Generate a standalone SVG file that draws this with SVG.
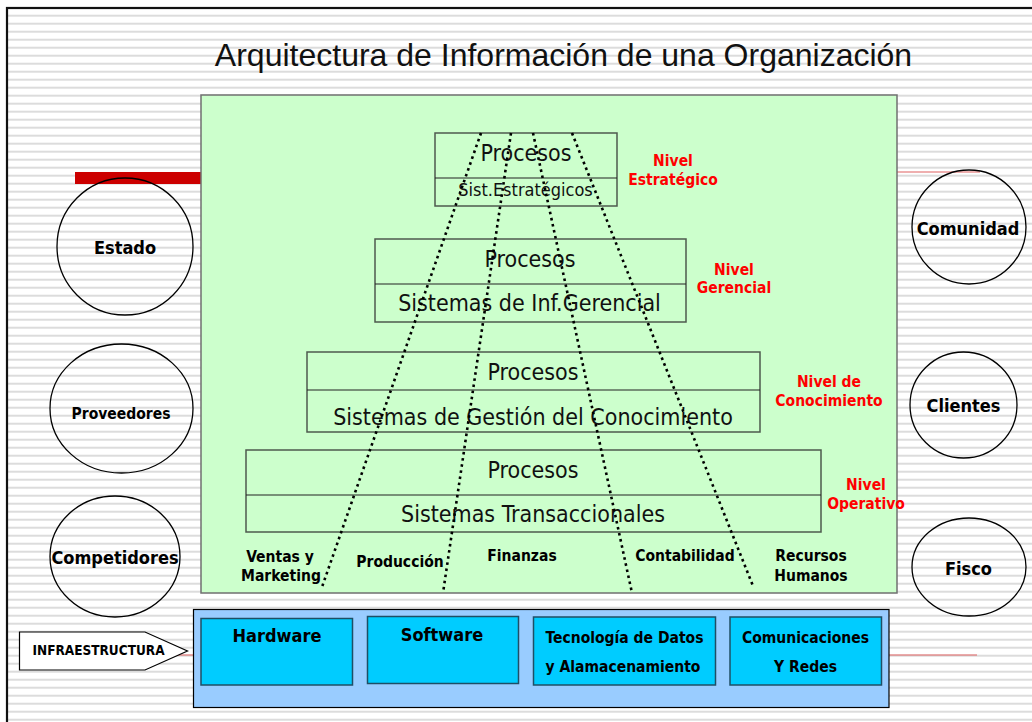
<svg xmlns="http://www.w3.org/2000/svg" width="1032" height="722" viewBox="0 0 1032 722">
<defs>
<pattern id="stripes" patternUnits="userSpaceOnUse" x="0" y="14.7" width="8" height="8">
<rect x="0" y="0" width="8" height="2" fill="#dcdcdc"/>
</pattern>
</defs>
<style>
.cond{font-family:"DejaVu Sans Condensed","DejaVu Sans",sans-serif;font-stretch:condensed}
.reg{font-weight:normal;font-size:23px;fill:#111}
.b{font-weight:bold;fill:#000}
.red{font-weight:bold;fill:#ff0000;font-size:15.5px}
.lvl{fill:none;stroke:#4d5a4d;stroke-width:1.5}
.div{stroke:#222;stroke-width:1.2}
.ell{fill:#fff;fill-opacity:0;stroke:#000;stroke-width:1.3}
.dot{fill:none;stroke:#000;stroke-width:2.6;stroke-dasharray:2.6 3.6}
.inner{fill:#00ccff;stroke:#1f4f66;stroke-width:1.5}
text{text-anchor:middle}
</style>
<rect x="0" y="0" width="1032" height="722" fill="#fff"/>
<rect x="8" y="9" width="1030" height="720" fill="url(#stripes)"/>
<rect x="7" y="8" width="1040" height="730" fill="none" stroke="#111" stroke-width="2.2"/>

<text id="title" x="563.5" y="66" style="font-family:'Liberation Sans',Arial,sans-serif;font-size:32px;fill:#111">Arquitectura de Información de una Organización</text>

<!-- red guide lines -->
<rect x="75" y="172" width="126" height="12" fill="#cc0000"/>
<line x1="897" y1="172" x2="980" y2="172" stroke="#e06060" stroke-width="1.2"/>
<line x1="75" y1="655" x2="193" y2="655" stroke="#e06060" stroke-width="1.2"/>
<line x1="889" y1="655" x2="977" y2="655" stroke="#e06060" stroke-width="1.2"/>

<g id="main-area">
<rect x="201" y="95" width="696" height="498" fill="#ccffcc" stroke="#707070" stroke-width="1.5"/>
</g>

<g id="nivel-estrategico">
<rect class="lvl" x="435" y="133" width="182" height="73"/>
<line class="div" x1="435" y1="178" x2="617" y2="178"/>
<text class="cond reg" x="526" y="161">Procesos</text>
<text class="cond reg" x="525.5" y="196" style="font-size:18px">Sist.Estratégicos</text>
<text class="cond red" x="673" y="166">Nivel</text>
<text class="cond red" x="673" y="185">Estratégico</text>
</g>

<g id="nivel-gerencial">
<rect class="lvl" x="375" y="239" width="311" height="83"/>
<line class="div" x1="375" y1="284" x2="686" y2="284"/>
<text class="cond reg" x="530" y="267">Procesos</text>
<text class="cond reg" x="529.5" y="311">Sistemas de Inf.Gerencial</text>
<text class="cond red" x="734" y="275">Nivel</text>
<text class="cond red" x="734" y="293">Gerencial</text>
</g>

<g id="nivel-conocimiento">
<rect class="lvl" x="307" y="352" width="453" height="80"/>
<line class="div" x1="307" y1="390" x2="760" y2="390"/>
<text class="cond reg" x="533" y="380">Procesos</text>
<text class="cond reg" x="533" y="425">Sistemas de Gestión del Conocimiento</text>
<text class="cond red" x="829" y="387">Nivel de</text>
<text class="cond red" x="829" y="406">Conocimiento</text>
</g>

<g id="nivel-operativo">
<rect class="lvl" x="246" y="450" width="575" height="82"/>
<line class="div" x1="246" y1="495" x2="821" y2="495"/>
<text class="cond reg" x="533" y="478">Procesos</text>
<text class="cond reg" x="533" y="522">Sistemas Transaccionales</text>
<text class="cond red" x="866" y="490">Nivel</text>
<text class="cond red" x="866" y="509">Operativo</text>
</g>

<g id="connectors">
<line class="dot" x1="481" y1="133" x2="322" y2="587"/>
<line class="dot" x1="511" y1="133" x2="443" y2="593"/>
<line class="dot" x1="533" y1="133" x2="632" y2="593"/>
<line class="dot" x1="572" y1="133" x2="753" y2="586"/>
</g>

<g id="areas" class="cond b" style="font-size:15.5px">
<text class="cond b" x="280" y="562">Ventas y</text>
<text class="cond b" x="281" y="581">Marketing</text>
<text class="cond b" x="400" y="567">Producción</text>
<text class="cond b" x="522" y="561">Finanzas</text>
<text class="cond b" x="685" y="561">Contabilidad</text>
<text class="cond b" x="811" y="561">Recursos</text>
<text class="cond b" x="811" y="581">Humanos</text>
</g>

<g id="estado"><ellipse class="ell" cx="125" cy="246.5" rx="68" ry="68.5"/><text class="cond b" x="125" y="254" style="font-size:18px">Estado</text></g>
<g id="proveedores"><ellipse class="ell" cx="121.5" cy="408.5" rx="71.5" ry="64.5"/><text class="cond b" x="121" y="419" style="font-size:15.5px">Proveedores</text></g>
<g id="competidores"><ellipse class="ell" cx="115" cy="556.5" rx="65" ry="60.5"/><text class="cond b" x="115" y="564" style="font-size:18px">Competidores</text></g>
<g id="comunidad"><ellipse class="ell" cx="969" cy="227" rx="57" ry="57"/><text class="cond b" x="968" y="235" style="font-size:18px">Comunidad</text></g>
<g id="clientes"><ellipse class="ell" cx="963.5" cy="405" rx="53.5" ry="53"/><text class="cond b" x="963.5" y="412" style="font-size:18px">Clientes</text></g>
<g id="fisco"><ellipse class="ell" cx="969" cy="567" rx="57" ry="49"/><text class="cond b" x="968.5" y="575" style="font-size:18px">Fisco</text></g>

<g id="infraestructura-label">
<polygon points="19.5,632 145,632 187.5,651 145,670 19.5,670" fill="#fff" stroke="#000" stroke-width="1.2"/>
<text class="cond b" x="98.5" y="654.5" style="font-size:13.5px">INFRAESTRUCTURA</text>
</g>

<g id="infraestructura">
<rect x="193.5" y="609.5" width="695.5" height="98" fill="#99ccff" stroke="#000" stroke-width="1.2"/>
</g>
<g id="hardware"><rect class="inner" x="201" y="618.5" width="151.5" height="66.5"/><text class="cond b" x="277" y="642" style="font-size:18px">Hardware</text></g>
<g id="software"><rect class="inner" x="367.5" y="616.5" width="151" height="67"/><text class="cond b" x="442" y="641" style="font-size:18px">Software</text></g>
<g id="tecnologia"><rect class="inner" x="533.5" y="617" width="182" height="68"/><text class="cond b" x="624.5" y="643" style="font-size:15.5px">Tecnología de Datos</text><text class="cond b" x="623" y="672" style="font-size:15.5px">y Alamacenamiento</text></g>
<g id="comunicaciones"><rect class="inner" x="730" y="617" width="151.5" height="68"/><text class="cond b" x="805.5" y="643" style="font-size:15.5px">Comunicaciones</text><text class="cond b" x="805.5" y="672" style="font-size:15.5px">Y Redes</text></g>
</svg>
